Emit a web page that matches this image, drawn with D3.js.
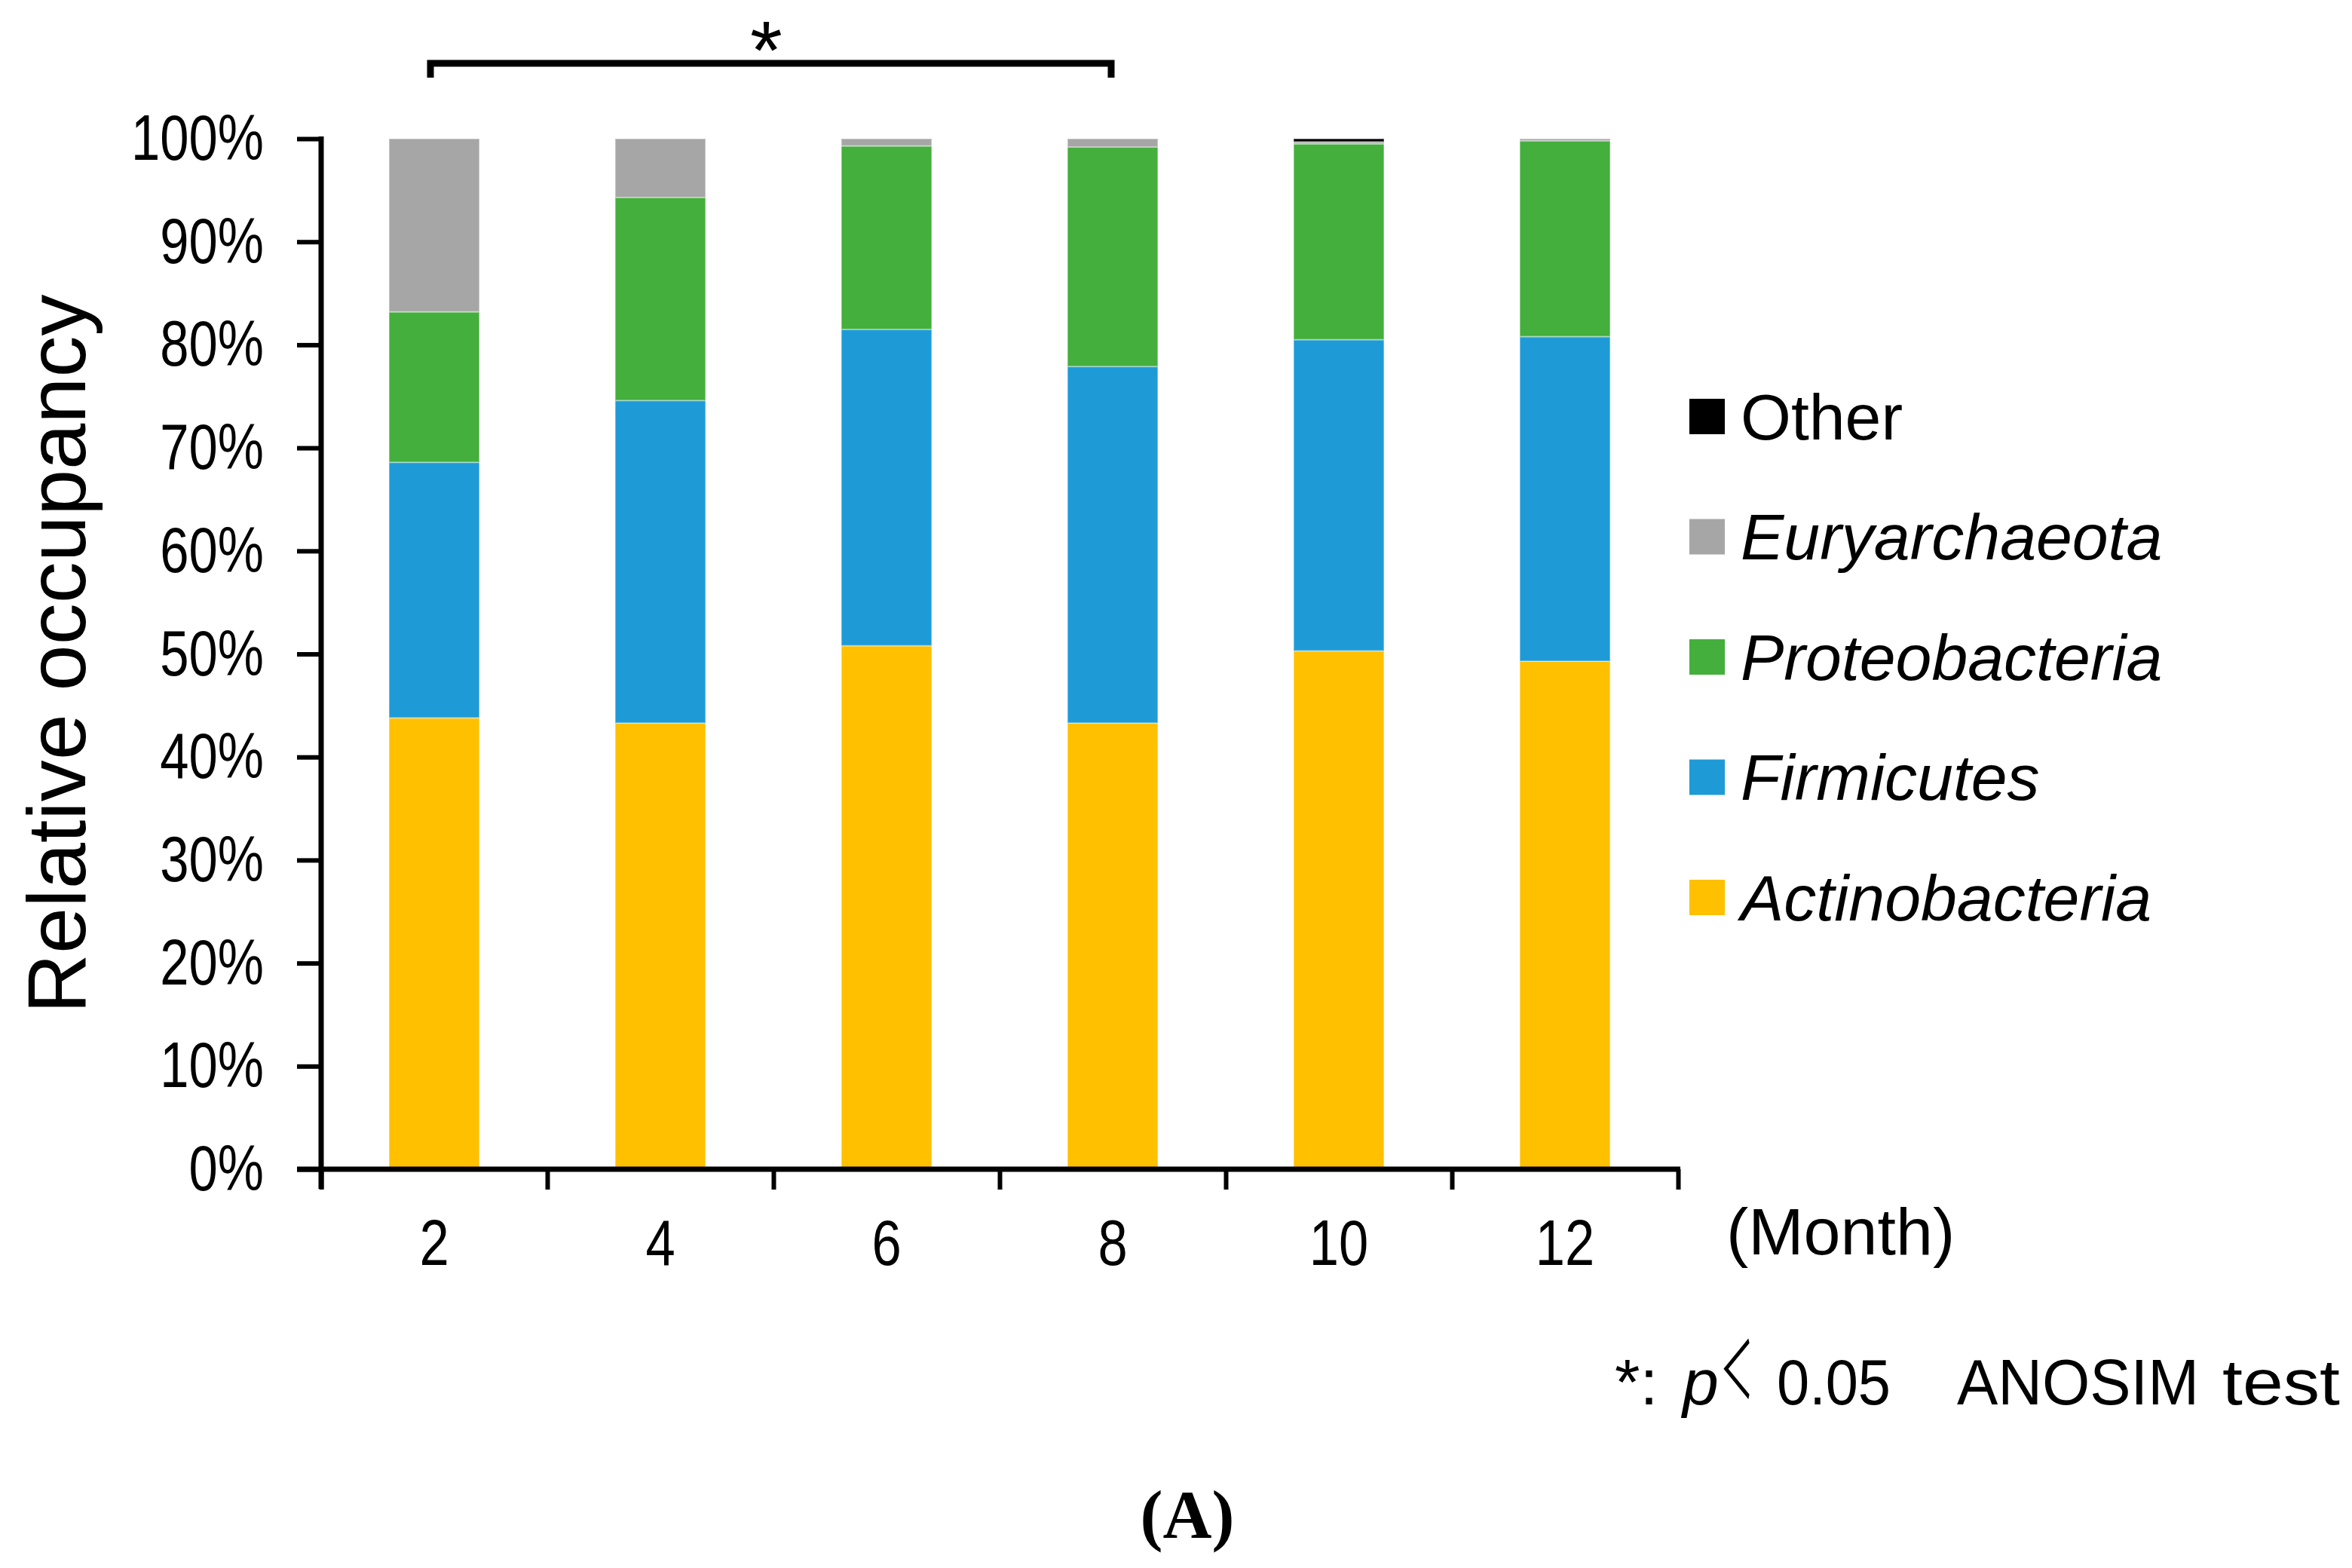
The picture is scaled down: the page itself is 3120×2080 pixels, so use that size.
<!DOCTYPE html>
<html>
<head>
<meta charset="utf-8">
<script src="https://cdn.jsdelivr.net/npm/d3@7"></script>
<style>
  html, body { margin: 0; padding: 0; background: #fff; }
  svg { display: block; font-family: "Liberation Sans", Arial, sans-serif; }
</style>
</head>
<body>
<svg id="chart" width="3120" height="2080"></svg>
<script>
// ---------------- data ----------------
const months = ["2", "4", "6", "8", "10", "12"];
const seriesNames = ["Actinobacteria", "Firmicutes", "Proteobacteria", "Euryarchaeota", "Other"];
const actinobacteria = [43.8, 43.3, 50.8, 43.3, 50.3, 49.3];
const firmicutes     = [24.8, 31.3, 30.7, 34.6, 30.2, 31.5];
const proteobacteria = [14.6, 19.7, 17.8, 21.3, 19.0, 19.0];
const euryarchaeota  = [16.8,  5.7,  0.7,  0.8,  0.2,  0.2];
const other          = [ 0.0,  0.0,  0.0,  0.0,  0.3,  0.0];
const yTicks = [0, 10, 20, 30, 40, 50, 60, 70, 80, 90, 100];
const seriesColors = ["#FFC000", "#1E9BD7", "#44AF3C", "#A6A6A6", "#000000"];
const italicSeries = ["Actinobacteria", "Firmicutes", "Proteobacteria", "Euryarchaeota"];
const sigPair = ["2", "8"];
const xTitle = "(Month)";
const yTitle = "Relative occupancy";
const caption = "(A)";

// ---------------- build ----------------
const valuesBySeries = [actinobacteria, firmicutes, proteobacteria, euryarchaeota, other];
const table = months.map((m, i) => {
  const row = { month: m };
  seriesNames.forEach((s, j) => { row[s] = valuesBySeries[j][i]; });
  return row;
});
const stacked = d3.stack().keys(seriesNames)(table);

const svg = d3.select("#chart");
svg.append("rect").attr("width", 3120).attr("height", 2080).attr("fill", "#fff");

const pLeft = 426, pRight = 2226, pTop = 184, pBottom = 1551;
const SANS = "Liberation Sans, Arial, sans-serif";

const x = d3.scaleBand().domain(months).range([pLeft, pRight]).paddingInner(0.6).paddingOuter(0.3);
const xb = d3.scaleLinear().domain([0, months.length]).range([pLeft, pRight]);
const y = d3.scaleLinear().domain([0, 100]).range([pBottom, pTop]);
const color = d3.scaleOrdinal().domain(seriesNames).range(seriesColors);

// bars
const g = svg.append("g");
g.selectAll("g.layer").data(stacked).join("g")
  .attr("class", "layer")
  .attr("fill", d => color(d.key))
  .selectAll("rect").data(d => d).join("rect")
  .attr("x", d => x(d.data.month))
  .attr("width", x.bandwidth())
  .attr("y", d => y(d[1]))
  .attr("height", d => Math.max(0, y(d[0]) - y(d[1])))
  .attr("stroke", "#ffffff")
  .attr("stroke-opacity", 0.35)
  .attr("stroke-width", 2);

// condense helpers
function condense(sel, f) {
  sel.each(function () {
    const len = this.getComputedTextLength();
    d3.select(this).attr("textLength", len * f).attr("lengthAdjust", "spacingAndGlyphs");
  });
}
function fitTo(sel, w) {
  sel.attr("textLength", w).attr("lengthAdjust", "spacingAndGlyphs");
}

// y axis
const yAxis = svg.append("g").attr("transform", `translate(${pLeft},0)`)
  .call(d3.axisLeft(y).tickValues(yTicks).tickSize(32).tickPadding(44).tickFormat(d => d + "%"));
yAxis.attr("font-family", SANS);
yAxis.select(".domain").attr("stroke", "#000").attr("stroke-width", 7)
  .attr("d", `M0,${pTop - 3}V${pBottom + 26}`);
yAxis.selectAll(".tick line").attr("stroke", "#000").attr("stroke-width", 6);
yAxis.selectAll(".tick text").attr("font-size", 86).attr("fill", "#000");
condense(yAxis.selectAll(".tick text"), 0.8);

// x axis (boundary ticks)
const xAxis = svg.append("g").attr("transform", `translate(0,${pBottom})`)
  .call(d3.axisBottom(xb).tickValues(d3.range(months.length + 1)).tickSize(27).tickFormat(""));
xAxis.select(".domain").attr("stroke", "#000").attr("stroke-width", 7)
  .attr("d", `M${pLeft - 32},0H${pRight + 3}`);
xAxis.selectAll(".tick line").attr("stroke", "#000").attr("stroke-width", 6);

// x labels
const xLab = svg.append("g").attr("transform", `translate(0,${pBottom})`)
  .call(d3.axisBottom(x).tickSize(0).tickPadding(66));
xLab.attr("font-family", SANS);
xLab.select(".domain").remove();
xLab.selectAll(".tick text").attr("font-size", 86).attr("fill", "#000");
condense(xLab.selectAll(".tick text"), 0.82);

// x title
svg.append("text").attr("x", 2290).attr("y", 1664).attr("font-size", 88).text(xTitle);

// y title
svg.append("text")
  .attr("transform", `translate(113,${(pTop + pBottom) / 2}) rotate(-90)`)
  .attr("text-anchor", "middle").attr("font-size", 110).text(yTitle);

// legend
const legendOrder = seriesNames.slice().reverse();
const leg = svg.append("g");
const legRows = leg.selectAll("g").data(legendOrder).join("g")
  .attr("transform", (d, i) => `translate(2241,${552 + i * 159.5})`);
legRows.append("rect").attr("x", 0).attr("y", -23).attr("width", 47).attr("height", 47)
  .attr("fill", d => color(d));
legRows.append("text").attr("x", 68).attr("y", 0).attr("dy", "0.36em")
  .attr("font-size", 86)
  .attr("font-style", d => italicSeries.includes(d) ? "italic" : "normal")
  .text(d => d);

// significance bracket
const bx1 = x(sigPair[0]) + x.bandwidth() / 2 - 5;
const bx2 = x(sigPair[1]) + x.bandwidth() / 2 - 2;
svg.append("path")
  .attr("d", `M${bx1},103V84H${bx2}V103`)
  .attr("fill", "none").attr("stroke", "#000").attr("stroke-width", 9);
svg.append("text").attr("x", (bx1 + bx2) / 2 - 6).attr("y", 104)
  .attr("text-anchor", "middle").attr("font-size", 110).text("*");

// footnote
const fnY = 1863;
svg.append("text").attr("x", 2142).attr("y", fnY).attr("font-size", 86).text("*:");
svg.append("text").attr("x", 2232).attr("y", fnY).attr("font-size", 86).attr("font-style", "italic").text("p");
svg.append("text").attr("transform", `translate(2282,${fnY - 8}) scale(0.42,1)`)
  .attr("font-family", "Noto Sans CJK JP").attr("font-size", 104).text("＜");
fitTo(svg.append("text").attr("x", 2357).attr("y", fnY).attr("font-size", 86).text("0.05"), 151);
fitTo(svg.append("text").attr("x", 2596).attr("y", fnY).attr("font-size", 86).text("ANOSIM"), 321);
fitTo(svg.append("text").attr("x", 2948).attr("y", fnY).attr("font-size", 86).text("test"), 156);

// caption
svg.append("text").attr("x", 1575).attr("y", 2040).attr("text-anchor", "middle")
  .attr("font-family", "Liberation Serif, Times New Roman, serif").attr("font-weight", "bold")
  .attr("font-size", 90).text(caption);
</script>
</body>
</html>
